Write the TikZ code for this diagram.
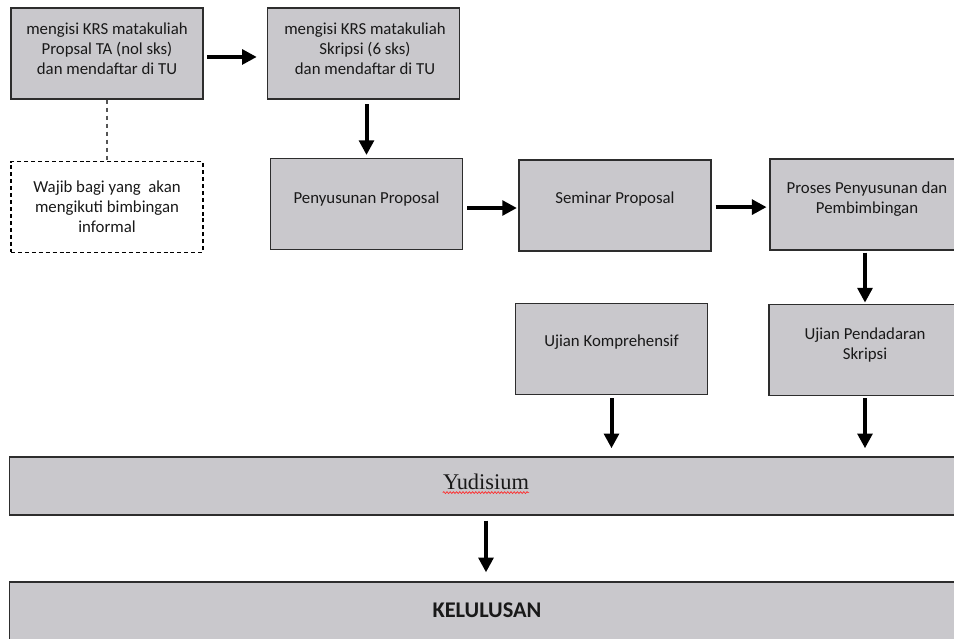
\documentclass[tikz,border=0pt]{standalone}
\usepackage{fontspec}
\setmainfont{Carlito}
\newfontfamily\timesfont{Liberation Serif}
\usepackage{tikz}
\usetikzlibrary{arrows.meta, calc, decorations.pathmorphing}
\usepackage{xcolor}

\definecolor{boxgray}{RGB}{201,200,204}
\definecolor{boxline}{RGB}{45,45,45}
\definecolor{dashline}{RGB}{85,85,85}

\tikzset{
	box/.style={draw=boxline, fill=boxgray, line width=1.1pt, minimum width=144pt, minimum height=68pt, inner sep=0pt},
	widebox/.style={box, minimum width=725pt},
	txt/.style={align=center, inner sep=0pt, font=\fontsize{12.6}{15}\selectfont, text=black!90},
	flow/.style={line width=3pt, -{Triangle[length=11pt, width=11pt]}},
}

\begin{document}
\begin{tikzpicture}[x=0.75pt, y=-0.75pt]
	\useasboundingbox (0,0) rectangle (954,639);
	\clip (0,0) rectangle (954,639);

	% upper row
	\node [box] (krsprop) at (107,53.5) {};
	\node [box] (krsskr) at (363.5,53.5) {};
	\node [box, fill=white, draw=black, dash pattern=on 3pt off 2.2pt] (wajib) at (107,207) {};
	\path (krsprop.center) ++(0,-5) node [txt] (krsproptext) {mengisi KRS matakuliah\\Propsal TA (nol sks)\\dan mendaftar di TU};
	\path (krsskr.center) ++(1.5,-5) node [txt] (krsskrtext) {mengisi KRS matakuliah\\Skripsi (6 sks)\\dan mendaftar di TU};
	\path (wajib.center) node [txt] (wajibtext) {Wajib bagi yang~ akan\\mengikuti bimbingan\\informal};

	% proposal row
	\node [box] (susun) at (366.5,204) {};
	\node [box] (seminar) at (615,205.5) {};
	\node [box] (proses) at (866,204.5) {};
	\path (susun.center) ++(0,-5) node [txt] (susuntext) {Penyusunan Proposal};
	\path (seminar.center) ++(0,-6.5) node [txt] (seminartext) {Seminar Proposal};
	\path (proses.center) ++(1,-5.5) node [txt] (prosestext) {Proses Penyusunan dan\\Pembimbingan};

	% ujian row
	\node [box] (kompre) at (611.5,349) {};
	\node [box] (pendadaran) at (865,350) {};
	\path (kompre.center) ++(0,-7) node [txt] (kompretext) {Ujian Komprehensif};
	\path (pendadaran.center) ++(0,-5) node [txt] (pendadarantext) {Ujian Pendadaran\\Skripsi};

	% yudisium and kelulusan
	\node [widebox, minimum height=43.5pt] (yudisium) at (493,486) {};
	\node [widebox, minimum height=48pt] (lulus) at (493,614) {};
	\path (486,482) node [txt, font=\timesfont\fontsize{16.8}{18}\selectfont] (yudtext) {Yudisium};
	\path (487,610) node [txt, font=\bfseries\fontsize{16.8}{18}\selectfont] (lulustext) {KELULUSAN};
	\draw [red!85, line width=0.5pt, decorate, decoration={snake, amplitude=0.7pt, segment length=2.4pt}]
		([yshift=-2.2pt]yudtext.base west) -- ([yshift=-2.2pt]yudtext.base east);

	% connectors
	\draw [dashline, line width=1pt, dash pattern=on 3.5pt off 2.5pt] (krsprop) -- (wajib);

	\coordinate (a1) at ([yshift=-2.6pt]krsprop.east);
	\draw [flow, shorten <=2.5pt, shorten >=7.5pt] (a1) -- (a1 -| krsskr.west);
	\draw [flow, shorten <=3.5pt, shorten >=2.2pt] (krsskr.south -| susun.north) -- (susun.north);
	\coordinate (a2) at ([yshift=-3pt]susun.east);
	\draw [flow, shorten <=3pt, shorten >=1pt] (a2) -- (a2 -| seminar.west);
	\coordinate (a3) at ([yshift=-1.2pt]seminar.east);
	\draw [flow, shorten <=3pt, shorten >=2pt] (a3) -- (a3 -| proses.west);
	\draw [flow, shorten <=1.5pt, shorten >=1pt] (proses.south -| pendadaran.north) -- (pendadaran.north);
	\draw [flow, shorten <=2.2pt, shorten >=6pt] (kompre.south) -- (kompre.south |- yudisium.north);
	\draw [flow, shorten <=1.5pt, shorten >=6pt] (pendadaran.south) -- (pendadaran.south |- yudisium.north);
	\draw [flow, shorten <=3.7pt, shorten >=6.7pt] (yudtext |- yudisium.south) -- (yudtext |- lulus.north);
\end{tikzpicture}
\end{document}
